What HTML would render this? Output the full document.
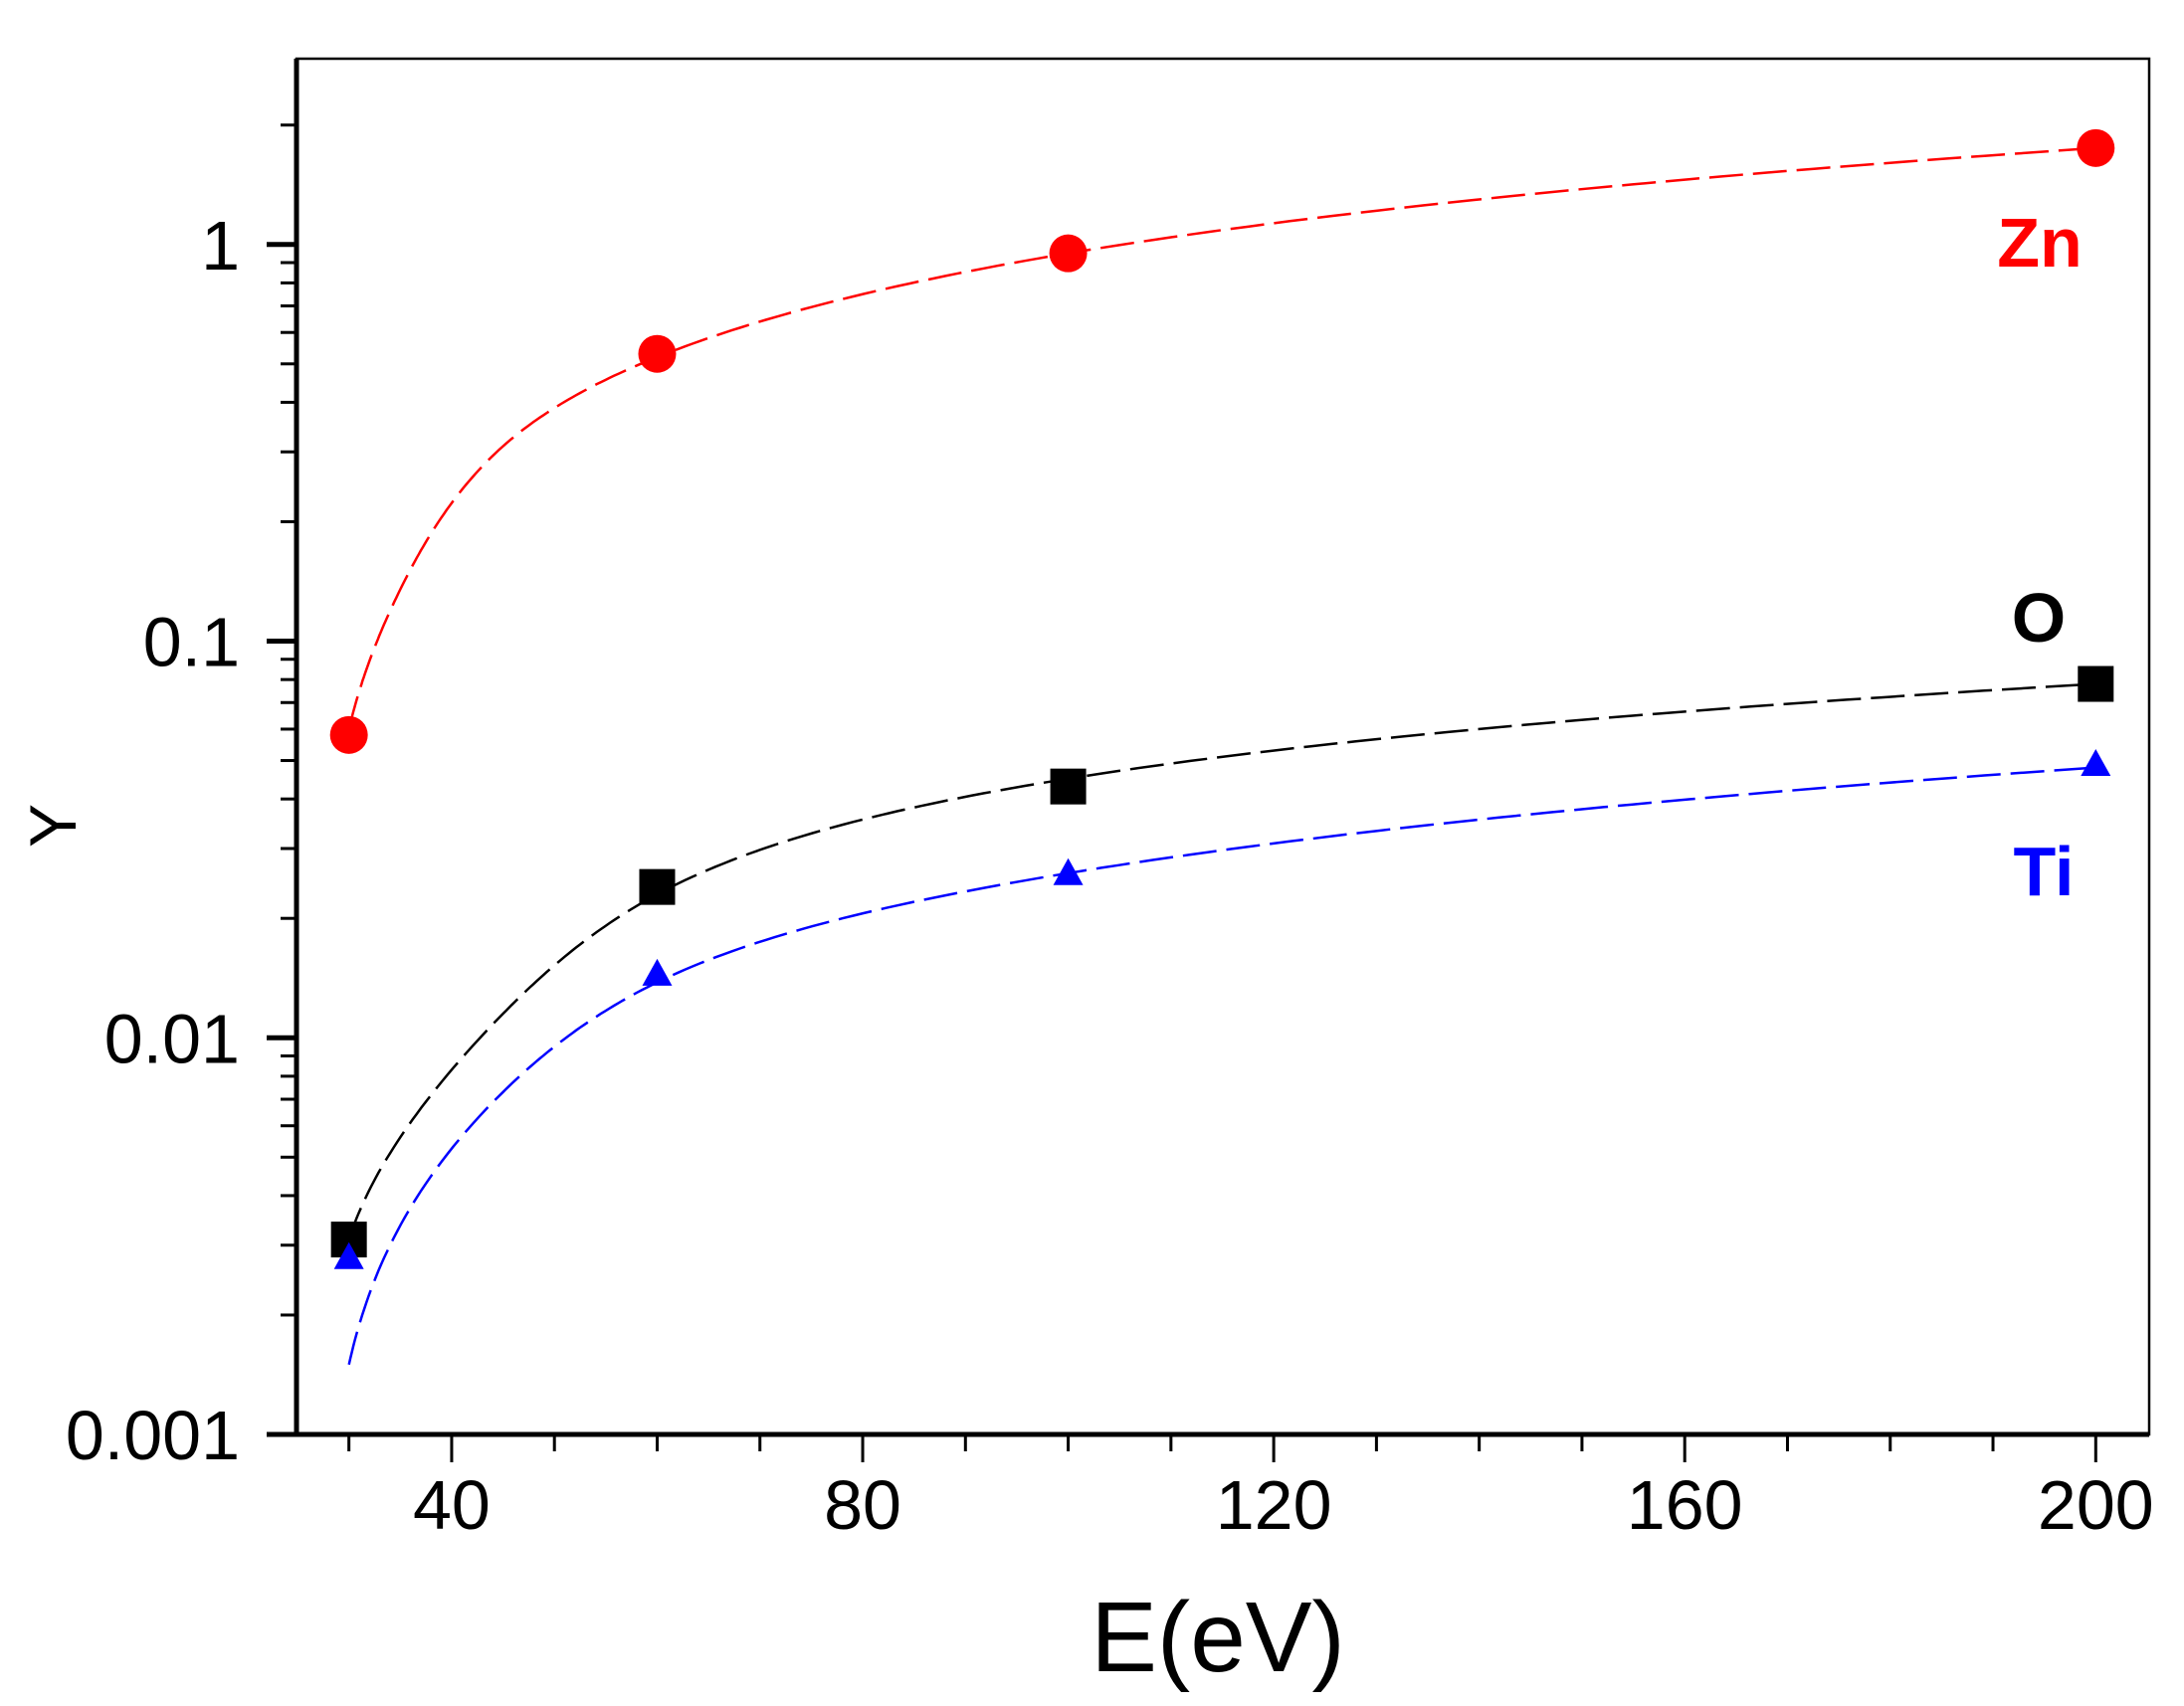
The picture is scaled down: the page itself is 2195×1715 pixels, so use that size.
<!DOCTYPE html>
<html><head><meta charset="utf-8"><style>
html,body{margin:0;padding:0;background:#fff;}
svg{display:block;font-family:"Liberation Sans",Arial,sans-serif;}
</style></head><body>
<svg id="chart" width="2195" height="1715" viewBox="0 0 2195 1715" xmlns="http://www.w3.org/2000/svg">
<g id="axes"></g>
<g id="curves"></g>
<g id="marks"></g>
<text x="1224" y="1680" font-size="100" text-anchor="middle">E(eV)</text>
<text x="0" y="0" font-size="66" text-anchor="middle" transform="translate(76,830) rotate(-90)">Y</text>
<text x="2050" y="268" font-size="70" font-weight="bold" fill="#ff0000" text-anchor="middle">Zn</text>
<text x="2049" y="645" font-size="70" font-weight="bold" fill="#000" text-anchor="middle">O</text>
<text x="2054" y="900" font-size="70" font-weight="bold" fill="#0000ff" text-anchor="middle">Ti</text>
</svg>
<script>
const energies = [30, 60, 100, 200];
const znValues = [0.058, 0.53, 0.95, 1.75];
const oValues = [0.0031, 0.024, 0.043, 0.078];
const tiValues = [0.0028, 0.0145, 0.026, 0.049];
const znFitX = [30, 35, 45, 60, 100, 200];
const znFit = [0.06, 0.135, 0.31, 0.52, 0.95, 1.75];
const oFitX = [30, 45, 60, 100, 200];
const oFit = [0.0031, 0.0115, 0.023, 0.045, 0.078];
const tiFitX = [30, 45, 60, 100, 200];
const tiFit = [0.0015, 0.0073, 0.0138, 0.026, 0.048];
const xTicks = [40, 80, 120, 160, 200];
const yTicks = [0.001, 0.01, 0.1, 1];
const yTickLabels = ["0.001", "0.01", "0.1", "1"];

const NS = "http://www.w3.org/2000/svg";
const L = 298, R = 2160, T = 59, B = 1442;
const xMin = 24.9, xMax = 205.2;
const yMinLog = -3, yMaxLog = Math.log10(2.94);
function xs(v){ return L + (v - xMin) / (xMax - xMin) * (R - L); }
function ys(v){ return B - (Math.log10(v) - yMinLog) / (yMaxLog - yMinLog) * (B - T); }
function mk(tag, attrs, parent){ const e = document.createElementNS(NS, tag); for (const k in attrs) e.setAttribute(k, attrs[k]); parent.appendChild(e); return e; }

const axes = document.getElementById('axes');
const frame = mk('rect', {x:L, y:T, width:R-L, height:B-T, fill:'none', stroke:'#000', 'stroke-width':2.5}, axes);


const xAxis = mk('line', {x1:L-4, y1:B, x2:R, y2:B, stroke:'#000', 'stroke-width':5}, axes);


const yAxis = mk('line', {x1:L, y1:T, x2:L, y2:B+2, stroke:'#000', 'stroke-width':5}, axes);



for (let v = 30; v <= 200; v += 10) {
  const major = v % 40 === 0;
  const t = mk('line', {x1:xs(v), y1:B, x2:xs(v), y2:B + (major ? 28 : 17), stroke:'#000', 'stroke-width':3}, axes);
  
  
}
xTicks.forEach(v => {
  const t = mk('text', {x:xs(v), y:1537, 'font-size':70, 'text-anchor':'middle'}, axes);
  t.textContent = String(v);
  
  
});
for (let d = -3; d <= 0; d++) {
  for (let m = 1; m <= 9; m++) {
    const v = m * Math.pow(10, d);
    if (ys(v) < T) continue;
    const major = m === 1;
    const t = mk('line', {x1:L - (major ? 30 : 16), y1:ys(v), x2:L, y2:ys(v), stroke:'#000', 'stroke-width': major ? 5 : 3}, axes);
    
    
  }
}
yTicks.forEach((v, i) => {
  const t = mk('text', {x:241, y:ys(v) + 25, 'font-size':70, 'text-anchor':'end'}, axes);
  t.textContent = yTickLabels[i];
  
  
});

// natural cubic spline of log10(y) over u = log(x - 27), sampled densely for drawing
function curvePath(xsArr, ysArr){
  const X = xsArr.map(v => Math.log(v - 27)), Y = ysArr.map(Math.log10);
  const n = X.length, h = [];
  for (let i = 0; i < n-1; i++) h.push(X[i+1]-X[i]);
  const M = new Array(n).fill(0);
  const cp = [], dp = [];
  for (let i = 1; i < n-1; i++) {
    const ai = h[i-1], bi = 2*(h[i-1]+h[i]), ci = h[i];
    const di = 6*((Y[i+1]-Y[i])/h[i] - (Y[i]-Y[i-1])/h[i-1]);
    if (i === 1) { cp[i] = ci/bi; dp[i] = di/bi; }
    else { const den = bi - ai*cp[i-1]; cp[i] = ci/den; dp[i] = (di - ai*dp[i-1])/den; }
  }
  for (let i = n-2; i >= 1; i--) M[i] = dp[i] - (i < n-2 ? cp[i]*M[i+1] : 0);
  let d = '';
  for (let i = 0; i < n-1; i++) {
    for (let k = 0; k <= 40; k++) {
      if (i > 0 && k === 0) continue;
      const u = X[i] + h[i]*k/40;
      const A = (X[i+1]-u)/h[i], Bc = (u-X[i])/h[i];
      const yv = A*Y[i] + Bc*Y[i+1] + ((A*A*A-A)*M[i] + (Bc*Bc*Bc-Bc)*M[i+1])*h[i]*h[i]/6;
      const xv = Math.exp(u) + 27;
      d += (d ? ' L' : 'M') + xs(xv).toFixed(1) + ',' + ys(Math.pow(10, yv)).toFixed(1);
    }
  }
  return d;
}
const curves = document.getElementById('curves');
const cz = mk('path', {d:curvePath(znFitX, znFit), fill:'none', stroke:'#ff0000', 'stroke-width':2.5, 'stroke-dasharray':'34 10'}, curves);


const co = mk('path', {d:curvePath(oFitX, oFit), fill:'none', stroke:'#000', 'stroke-width':2.5, 'stroke-dasharray':'34 10'}, curves);


const ct = mk('path', {d:curvePath(tiFitX, tiFit), fill:'none', stroke:'#0000ff', 'stroke-width':2.5, 'stroke-dasharray':'34 10'}, curves);



const marks = document.getElementById('marks');
energies.forEach((e, i) => {
  const c = mk('circle', {cx:xs(e), cy:ys(znValues[i]), r:19, fill:'#ff0000'}, marks);
  
  
  const s = mk('rect', {x:xs(e)-18, y:ys(oValues[i])-18, width:36, height:36, fill:'#000'}, marks);
  
  
  const cx = xs(e), cy = ys(tiValues[i]);
  const tr = mk('polygon', {points:(cx-15)+','+(cy+12)+' '+(cx+15)+','+(cy+12)+' '+cx+','+(cy-15), fill:'#0000ff'}, marks);
  
  
});
</script>
</body></html>
